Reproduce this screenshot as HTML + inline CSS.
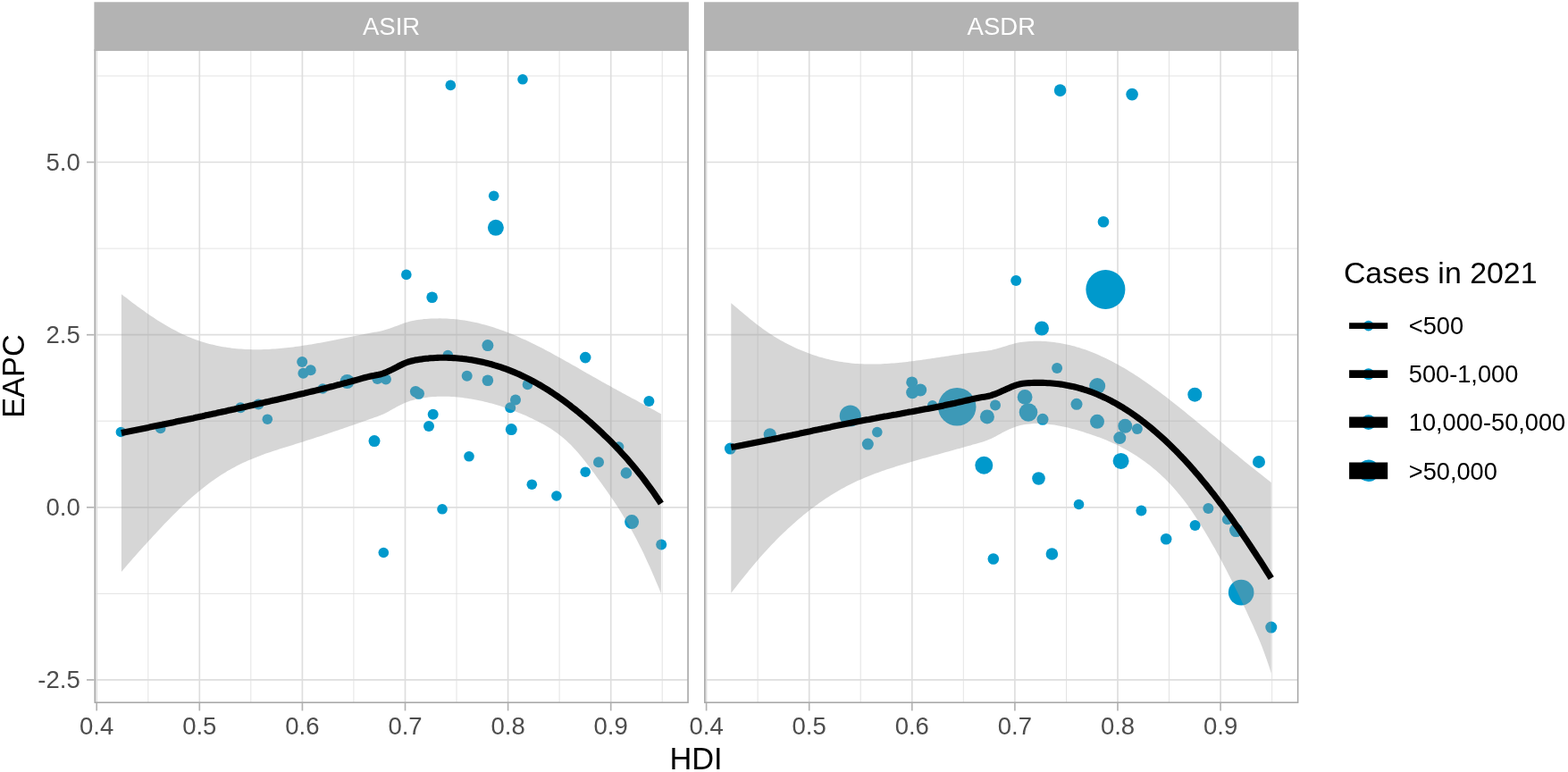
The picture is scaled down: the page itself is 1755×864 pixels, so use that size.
<!DOCTYPE html>
<html><head><meta charset="utf-8"><title>EAPC vs HDI</title>
<style>
html,body{margin:0;padding:0;background:#fff;}
svg{display:block;}
text{font-family:"Liberation Sans", Arial, Helvetica, sans-serif;}
.ax{font-size:27.5px;fill:#4d4d4d;}
.ti{font-size:34.4px;fill:#000;}
.st{font-size:27.5px;fill:#fff;}
.lg{font-size:27.2px;fill:#000;}
.lt{font-size:33.9px;fill:#000;}
</style></head><body>
<svg width="1755" height="864" viewBox="0 0 1755 864">
<rect width="1755" height="864" fill="#fff"/>
<g>
<clipPath id="c1"><rect x="106.25" y="56.0" width="663.8" height="730.25"/></clipPath>
<g clip-path="url(#c1)">
<line x1="106.25" x2="770.05" y1="664.4" y2="664.4" stroke="#dedede" stroke-width="0.85"/>
<line x1="106.25" x2="770.05" y1="471.2" y2="471.2" stroke="#dedede" stroke-width="0.85"/>
<line x1="106.25" x2="770.05" y1="278.1" y2="278.1" stroke="#dedede" stroke-width="0.85"/>
<line x1="106.25" x2="770.05" y1="85.0" y2="85.0" stroke="#dedede" stroke-width="0.85"/>
<line y1="56.0" y2="786.25" x1="165.8" x2="165.8" stroke="#dedede" stroke-width="0.85"/>
<line y1="56.0" y2="786.25" x1="280.8" x2="280.8" stroke="#dedede" stroke-width="0.85"/>
<line y1="56.0" y2="786.25" x1="395.9" x2="395.9" stroke="#dedede" stroke-width="0.85"/>
<line y1="56.0" y2="786.25" x1="511.0" x2="511.0" stroke="#dedede" stroke-width="0.85"/>
<line y1="56.0" y2="786.25" x1="626.1" x2="626.1" stroke="#dedede" stroke-width="0.85"/>
<line y1="56.0" y2="786.25" x1="741.2" x2="741.2" stroke="#dedede" stroke-width="0.85"/>
<line x1="106.25" x2="770.05" y1="760.9" y2="760.9" stroke="#dedede" stroke-width="1.67"/>
<line x1="106.25" x2="770.05" y1="567.8" y2="567.8" stroke="#dedede" stroke-width="1.67"/>
<line x1="106.25" x2="770.05" y1="374.7" y2="374.7" stroke="#dedede" stroke-width="1.67"/>
<line x1="106.25" x2="770.05" y1="181.5" y2="181.5" stroke="#dedede" stroke-width="1.67"/>
<line y1="56.0" y2="786.25" x1="108.2" x2="108.2" stroke="#dedede" stroke-width="1.67"/>
<line y1="56.0" y2="786.25" x1="223.3" x2="223.3" stroke="#dedede" stroke-width="1.67"/>
<line y1="56.0" y2="786.25" x1="338.4" x2="338.4" stroke="#dedede" stroke-width="1.67"/>
<line y1="56.0" y2="786.25" x1="453.5" x2="453.5" stroke="#dedede" stroke-width="1.67"/>
<line y1="56.0" y2="786.25" x1="568.6" x2="568.6" stroke="#dedede" stroke-width="1.67"/>
<line y1="56.0" y2="786.25" x1="683.7" x2="683.7" stroke="#dedede" stroke-width="1.67"/>
<circle cx="504.3" cy="95.4" r="5.8" fill="#0099cc"/>
<circle cx="585.0" cy="88.8" r="5.8" fill="#0099cc"/>
<circle cx="552.7" cy="219.2" r="5.8" fill="#0099cc"/>
<circle cx="554.9" cy="254.8" r="9" fill="#0099cc"/>
<circle cx="454.8" cy="307.4" r="5.8" fill="#0099cc"/>
<circle cx="483.6" cy="332.7" r="6.3" fill="#0099cc"/>
<circle cx="338.2" cy="405.1" r="6" fill="#0099cc"/>
<circle cx="347.7" cy="414.2" r="6" fill="#0099cc"/>
<circle cx="339.4" cy="417.7" r="6" fill="#0099cc"/>
<circle cx="361.2" cy="435" r="5.8" fill="#0099cc"/>
<circle cx="388.6" cy="427" r="8" fill="#0099cc"/>
<circle cx="422.4" cy="423.9" r="6" fill="#0099cc"/>
<circle cx="431.9" cy="424.6" r="6" fill="#0099cc"/>
<circle cx="465.2" cy="438.2" r="6.3" fill="#0099cc"/>
<circle cx="468.7" cy="440.5" r="6.3" fill="#0099cc"/>
<circle cx="501.3" cy="397.5" r="5.8" fill="#0099cc"/>
<circle cx="522.7" cy="420.8" r="6" fill="#0099cc"/>
<circle cx="545.9" cy="386.6" r="6.5" fill="#0099cc"/>
<circle cx="545.9" cy="425.7" r="6.3" fill="#0099cc"/>
<circle cx="590.5" cy="430.4" r="5.8" fill="#0099cc"/>
<circle cx="577" cy="447.5" r="6" fill="#0099cc"/>
<circle cx="571.2" cy="456.3" r="6" fill="#0099cc"/>
<circle cx="572.3" cy="480.6" r="6.5" fill="#0099cc"/>
<circle cx="655.2" cy="400.1" r="6.3" fill="#0099cc"/>
<circle cx="726.4" cy="449" r="6" fill="#0099cc"/>
<circle cx="484.7" cy="463.8" r="6" fill="#0099cc"/>
<circle cx="480" cy="477" r="6" fill="#0099cc"/>
<circle cx="419" cy="493.6" r="6.5" fill="#0099cc"/>
<circle cx="269.2" cy="456.3" r="6" fill="#0099cc"/>
<circle cx="289.3" cy="452.5" r="6" fill="#0099cc"/>
<circle cx="299.3" cy="469.2" r="5.8" fill="#0099cc"/>
<circle cx="179.7" cy="479.5" r="5.8" fill="#0099cc"/>
<circle cx="135.4" cy="483.5" r="5.8" fill="#0099cc"/>
<circle cx="525" cy="510.8" r="5.8" fill="#0099cc"/>
<circle cx="495" cy="569.8" r="5.8" fill="#0099cc"/>
<circle cx="429.3" cy="618.5" r="5.8" fill="#0099cc"/>
<circle cx="595.3" cy="542.2" r="5.8" fill="#0099cc"/>
<circle cx="622.9" cy="555" r="5.8" fill="#0099cc"/>
<circle cx="655.2" cy="528.2" r="5.8" fill="#0099cc"/>
<circle cx="670" cy="517.2" r="6" fill="#0099cc"/>
<circle cx="692.6" cy="500.1" r="5.8" fill="#0099cc"/>
<circle cx="700.9" cy="529.4" r="6.3" fill="#0099cc"/>
<circle cx="707.1" cy="584.1" r="8" fill="#0099cc"/>
<circle cx="740.2" cy="609.4" r="6" fill="#0099cc"/>
<path d="M135.9,329.2 L138.4,331.2 L141.0,333.1 L143.5,335.1 L146.0,337.0 L148.5,338.9 L151.1,340.8 L153.6,342.7 L156.1,344.5 L158.6,346.3 L161.2,348.1 L163.7,349.9 L166.2,351.7 L168.8,353.4 L171.3,355.1 L173.8,356.8 L176.3,358.4 L178.9,360.0 L181.4,361.5 L183.9,363.1 L186.4,364.6 L189.0,366.0 L191.5,367.4 L194.0,368.8 L196.6,370.1 L199.1,371.4 L201.6,372.7 L204.1,373.9 L206.7,375.1 L209.2,376.2 L211.7,377.3 L214.2,378.3 L216.8,379.3 L219.3,380.2 L221.8,381.1 L224.4,381.9 L226.9,382.7 L229.4,383.5 L231.9,384.2 L234.5,384.9 L237.0,385.5 L239.5,386.1 L242.0,386.7 L244.6,387.2 L247.1,387.7 L249.6,388.2 L252.2,388.6 L254.7,389.0 L257.2,389.3 L259.7,389.7 L262.3,389.9 L264.8,390.2 L267.3,390.4 L269.8,390.6 L272.4,390.8 L274.9,390.9 L277.4,391.1 L280.0,391.1 L282.5,391.2 L285.0,391.2 L287.5,391.2 L290.1,391.2 L292.6,391.2 L295.1,391.1 L297.6,391.0 L300.2,390.9 L302.7,390.8 L305.2,390.6 L307.7,390.5 L310.3,390.3 L312.8,390.1 L315.3,389.8 L317.9,389.6 L320.4,389.3 L322.9,389.0 L325.4,388.7 L328.0,388.4 L330.5,388.1 L333.0,387.8 L335.5,387.4 L338.1,387.0 L340.6,386.6 L343.1,386.2 L345.7,385.8 L348.2,385.4 L350.7,385.0 L353.2,384.6 L355.8,384.1 L358.3,383.7 L360.8,383.2 L363.3,382.7 L365.9,382.2 L368.4,381.8 L370.9,381.3 L373.5,380.8 L376.0,380.3 L378.5,379.8 L381.0,379.3 L383.6,378.8 L386.1,378.3 L388.6,377.8 L391.1,377.3 L393.7,376.7 L396.2,376.2 L398.7,375.7 L401.3,375.2 L403.8,374.7 L406.3,374.2 L408.8,373.7 L411.4,373.3 L413.9,372.8 L416.4,372.3 L418.9,371.8 L421.5,371.4 L424.0,370.9 L426.5,370.4 L429.1,369.8 L431.6,369.1 L434.1,368.3 L436.6,367.5 L439.2,366.6 L441.7,365.6 L444.2,364.7 L446.7,363.7 L449.3,362.7 L451.8,361.8 L454.3,360.9 L456.9,360.2 L459.4,359.5 L461.9,358.9 L464.4,358.4 L467.0,358.0 L469.5,357.7 L472.0,357.4 L474.5,357.1 L477.1,356.9 L479.6,356.7 L482.1,356.6 L484.7,356.5 L487.2,356.4 L489.7,356.4 L492.2,356.3 L494.8,356.4 L497.3,356.4 L499.8,356.5 L502.3,356.7 L504.9,356.9 L507.4,357.1 L509.9,357.3 L512.5,357.6 L515.0,357.9 L517.5,358.2 L520.0,358.6 L522.6,359.0 L525.1,359.5 L527.6,359.9 L530.1,360.5 L532.7,361.0 L535.2,361.6 L537.7,362.2 L540.3,362.9 L542.8,363.5 L545.3,364.3 L547.8,365.0 L550.4,365.8 L552.9,366.6 L555.4,367.4 L557.9,368.3 L560.5,369.2 L563.0,370.1 L565.5,371.0 L568.1,372.0 L570.6,373.0 L573.1,374.0 L575.6,375.1 L578.2,376.1 L580.7,377.2 L583.2,378.4 L585.7,379.5 L588.3,380.6 L590.8,381.8 L593.3,383.0 L595.8,384.2 L598.4,385.5 L600.9,386.7 L603.4,388.0 L606.0,389.3 L608.5,390.6 L611.0,391.9 L613.5,393.3 L616.1,394.6 L618.6,396.0 L621.1,397.4 L623.6,398.8 L626.2,400.2 L628.7,401.6 L631.2,403.0 L633.8,404.4 L636.3,405.8 L638.8,407.3 L641.3,408.7 L643.9,410.1 L646.4,411.6 L648.9,413.0 L651.4,414.5 L654.0,415.9 L656.5,417.4 L659.0,418.8 L661.6,420.2 L664.1,421.7 L666.6,423.1 L669.1,424.5 L671.7,426.0 L674.2,427.4 L676.7,428.8 L679.2,430.2 L681.8,431.6 L684.3,433.0 L686.8,434.4 L689.4,435.8 L691.9,437.2 L694.4,438.5 L696.9,439.9 L699.5,441.3 L702.0,442.7 L704.5,444.0 L707.0,445.4 L709.6,446.8 L712.1,448.1 L714.6,449.5 L717.2,450.9 L719.7,452.3 L722.2,453.6 L724.7,455.0 L727.3,456.4 L729.8,457.7 L732.3,459.1 L734.8,460.5 L737.4,461.9 L739.9,463.2 L739.9,664.3 L737.4,658.1 L734.8,652.0 L732.3,646.1 L729.8,640.2 L727.3,634.5 L724.7,628.9 L722.2,623.4 L719.7,618.1 L717.2,612.9 L714.6,607.9 L712.1,603.0 L709.6,598.2 L707.0,593.6 L704.5,589.1 L702.0,584.7 L699.5,580.4 L696.9,576.3 L694.4,572.2 L691.9,568.3 L689.4,564.4 L686.8,560.6 L684.3,556.9 L681.8,553.2 L679.2,549.6 L676.7,546.0 L674.2,542.5 L671.7,539.0 L669.1,535.5 L666.6,532.0 L664.1,528.6 L661.6,525.2 L659.0,521.8 L656.5,518.5 L654.0,515.3 L651.4,512.1 L648.9,509.0 L646.4,506.0 L643.9,503.2 L641.3,500.4 L638.8,497.8 L636.3,495.4 L633.8,493.0 L631.2,490.8 L628.7,488.7 L626.2,486.7 L623.6,484.8 L621.1,483.0 L618.6,481.3 L616.1,479.6 L613.5,478.1 L611.0,476.6 L608.5,475.1 L606.0,473.8 L603.4,472.4 L600.9,471.1 L598.4,469.9 L595.8,468.6 L593.3,467.4 L590.8,466.3 L588.3,465.1 L585.7,464.0 L583.2,463.0 L580.7,461.9 L578.2,460.9 L575.6,459.9 L573.1,458.9 L570.6,458.0 L568.1,457.1 L565.5,456.2 L563.0,455.4 L560.5,454.6 L557.9,453.8 L555.4,453.0 L552.9,452.3 L550.4,451.6 L547.8,451.0 L545.3,450.3 L542.8,449.7 L540.3,449.1 L537.7,448.6 L535.2,448.0 L532.7,447.5 L530.1,447.0 L527.6,446.6 L525.1,446.2 L522.6,445.8 L520.0,445.4 L517.5,445.1 L515.0,444.8 L512.5,444.5 L509.9,444.3 L507.4,444.1 L504.9,444.0 L502.3,443.8 L499.8,443.8 L497.3,443.7 L494.8,443.7 L492.2,443.7 L489.7,443.8 L487.2,443.9 L484.7,444.1 L482.1,444.3 L479.6,444.6 L477.1,444.9 L474.5,445.2 L472.0,445.6 L469.5,446.1 L467.0,446.6 L464.4,447.2 L461.9,447.9 L459.4,448.6 L456.9,449.5 L454.3,450.5 L451.8,451.5 L449.3,452.7 L446.7,454.0 L444.2,455.3 L441.7,456.7 L439.2,458.1 L436.6,459.6 L434.1,460.9 L431.6,462.2 L429.1,463.4 L426.5,464.5 L424.0,465.5 L421.5,466.4 L418.9,467.3 L416.4,468.2 L413.9,469.1 L411.4,470.0 L408.8,470.9 L406.3,471.8 L403.8,472.7 L401.3,473.6 L398.7,474.5 L396.2,475.3 L393.7,476.2 L391.1,477.1 L388.6,478.0 L386.1,478.8 L383.6,479.7 L381.0,480.6 L378.5,481.4 L376.0,482.3 L373.5,483.1 L370.9,484.0 L368.4,484.8 L365.9,485.7 L363.3,486.5 L360.8,487.4 L358.3,488.2 L355.8,489.0 L353.2,489.8 L350.7,490.7 L348.2,491.5 L345.7,492.3 L343.1,493.1 L340.6,493.9 L338.1,494.7 L335.5,495.5 L333.0,496.3 L330.5,497.1 L328.0,497.9 L325.4,498.7 L322.9,499.4 L320.4,500.2 L317.9,501.0 L315.3,501.8 L312.8,502.6 L310.3,503.4 L307.7,504.2 L305.2,505.1 L302.7,505.9 L300.2,506.8 L297.6,507.6 L295.1,508.5 L292.6,509.5 L290.1,510.4 L287.5,511.4 L285.0,512.4 L282.5,513.4 L280.0,514.4 L277.4,515.5 L274.9,516.7 L272.4,517.8 L269.8,519.0 L267.3,520.3 L264.8,521.5 L262.3,522.9 L259.7,524.3 L257.2,525.7 L254.7,527.1 L252.2,528.7 L249.6,530.2 L247.1,531.8 L244.6,533.5 L242.0,535.2 L239.5,537.0 L237.0,538.8 L234.5,540.6 L231.9,542.5 L229.4,544.5 L226.9,546.4 L224.4,548.5 L221.8,550.5 L219.3,552.7 L216.8,554.8 L214.2,557.0 L211.7,559.3 L209.2,561.6 L206.7,563.9 L204.1,566.3 L201.6,568.8 L199.1,571.2 L196.6,573.7 L194.0,576.2 L191.5,578.8 L189.0,581.4 L186.4,584.0 L183.9,586.6 L181.4,589.3 L178.9,592.0 L176.3,594.7 L173.8,597.4 L171.3,600.1 L168.8,602.9 L166.2,605.6 L163.7,608.4 L161.2,611.1 L158.6,613.9 L156.1,616.7 L153.6,619.6 L151.1,622.4 L148.5,625.3 L146.0,628.2 L143.5,631.1 L141.0,634.0 L138.4,637.0 L135.9,640.0Z" fill="#999999" fill-opacity="0.4"/>
<path d="M135.9,484.4 L138.4,483.9 L141.0,483.4 L143.5,482.9 L146.0,482.4 L148.5,481.9 L151.1,481.4 L153.6,480.9 L156.1,480.4 L158.6,479.9 L161.2,479.4 L163.7,478.9 L166.2,478.4 L168.8,477.8 L171.3,477.3 L173.8,476.8 L176.3,476.3 L178.9,475.8 L181.4,475.3 L183.9,474.7 L186.4,474.2 L189.0,473.7 L191.5,473.2 L194.0,472.7 L196.6,472.1 L199.1,471.6 L201.6,471.1 L204.1,470.5 L206.7,470.0 L209.2,469.5 L211.7,468.9 L214.2,468.4 L216.8,467.9 L219.3,467.3 L221.8,466.8 L224.4,466.2 L226.9,465.7 L229.4,465.1 L231.9,464.6 L234.5,464.0 L237.0,463.5 L239.5,462.9 L242.0,462.4 L244.6,461.8 L247.1,461.3 L249.6,460.7 L252.2,460.2 L254.7,459.6 L257.2,459.1 L259.7,458.5 L262.3,458.0 L264.8,457.4 L267.3,456.8 L269.8,456.3 L272.4,455.7 L274.9,455.2 L277.4,454.6 L280.0,454.0 L282.5,453.5 L285.0,452.9 L287.5,452.3 L290.1,451.8 L292.6,451.2 L295.1,450.6 L297.6,450.0 L300.2,449.5 L302.7,448.9 L305.2,448.3 L307.7,447.8 L310.3,447.2 L312.8,446.6 L315.3,446.0 L317.9,445.5 L320.4,444.9 L322.9,444.3 L325.4,443.7 L328.0,443.1 L330.5,442.5 L333.0,441.9 L335.5,441.3 L338.1,440.7 L340.6,440.2 L343.1,439.5 L345.7,438.9 L348.2,438.3 L350.7,437.7 L353.2,437.1 L355.8,436.5 L358.3,435.9 L360.8,435.2 L363.3,434.6 L365.9,434.0 L368.4,433.3 L370.9,432.7 L373.5,432.1 L376.0,431.4 L378.5,430.7 L381.0,430.1 L383.6,429.4 L386.1,428.7 L388.6,428.1 L391.1,427.4 L393.7,426.7 L396.2,426.0 L398.7,425.3 L401.3,424.6 L403.8,423.9 L406.3,423.2 L408.8,422.5 L411.4,421.9 L413.9,421.3 L416.4,420.7 L418.9,420.3 L421.5,419.8 L424.0,419.3 L426.5,418.7 L429.1,417.9 L431.6,416.9 L434.1,415.8 L436.6,414.6 L439.2,413.4 L441.7,412.1 L444.2,410.8 L446.7,409.5 L449.3,408.2 L451.8,407.0 L454.3,406.0 L456.9,405.0 L459.4,404.3 L461.9,403.7 L464.4,403.1 L467.0,402.7 L469.5,402.3 L472.0,401.9 L474.5,401.6 L477.1,401.3 L479.6,401.1 L482.1,400.8 L484.7,400.7 L487.2,400.5 L489.7,400.4 L492.2,400.3 L494.8,400.3 L497.3,400.3 L499.8,400.3 L502.3,400.4 L504.9,400.5 L507.4,400.6 L509.9,400.8 L512.5,401.0 L515.0,401.2 L517.5,401.4 L520.0,401.7 L522.6,402.1 L525.1,402.4 L527.6,402.8 L530.1,403.2 L532.7,403.7 L535.2,404.2 L537.7,404.7 L540.3,405.3 L542.8,405.9 L545.3,406.5 L547.8,407.1 L550.4,407.8 L552.9,408.6 L555.4,409.3 L557.9,410.1 L560.5,410.9 L563.0,411.8 L565.5,412.7 L568.1,413.6 L570.6,414.6 L573.1,415.6 L575.6,416.6 L578.2,417.7 L580.7,418.8 L583.2,420.0 L585.7,421.2 L588.3,422.4 L590.8,423.6 L593.3,424.9 L595.8,426.3 L598.4,427.6 L600.9,429.0 L603.4,430.5 L606.0,431.9 L608.5,433.5 L611.0,435.0 L613.5,436.6 L616.1,438.2 L618.6,439.9 L621.1,441.6 L623.6,443.3 L626.2,445.1 L628.7,446.9 L631.2,448.7 L633.8,450.6 L636.3,452.5 L638.8,454.4 L641.3,456.4 L643.9,458.4 L646.4,460.4 L648.9,462.5 L651.4,464.6 L654.0,466.7 L656.5,468.9 L659.0,471.1 L661.6,473.3 L664.1,475.6 L666.6,477.9 L669.1,480.2 L671.7,482.6 L674.2,484.9 L676.7,487.4 L679.2,489.8 L681.8,492.3 L684.3,494.8 L686.8,497.4 L689.4,500.0 L691.9,502.7 L694.4,505.4 L696.9,508.1 L699.5,510.9 L702.0,513.7 L704.5,516.6 L707.0,519.6 L709.6,522.6 L712.1,525.6 L714.6,528.8 L717.2,531.9 L719.7,535.2 L722.2,538.5 L724.7,541.8 L727.3,545.3 L729.8,548.8 L732.3,552.3 L734.8,556.0 L737.4,559.7 L739.9,563.5" fill="none" stroke="#000" stroke-width="7.1" stroke-linejoin="round"/>
</g>
<rect x="106.25" y="56.0" width="663.8" height="730.25" fill="none" stroke="#a8a8a8" stroke-width="1.6"/>
<rect x="105.40" y="2.3" width="665.50" height="54.50" fill="#b3b3b3"/>
<text class="st" x="438.1" y="38.7" text-anchor="middle">ASIR</text>
<line x1="108.2" x2="108.2" y1="787.05" y2="795.45" stroke="#b3b3b3" stroke-width="1.67"/>
<text class="ax" x="108.2" y="822.0" text-anchor="middle">0.4</text>
<line x1="223.3" x2="223.3" y1="787.05" y2="795.45" stroke="#b3b3b3" stroke-width="1.67"/>
<text class="ax" x="223.3" y="822.0" text-anchor="middle">0.5</text>
<line x1="338.4" x2="338.4" y1="787.05" y2="795.45" stroke="#b3b3b3" stroke-width="1.67"/>
<text class="ax" x="338.4" y="822.0" text-anchor="middle">0.6</text>
<line x1="453.5" x2="453.5" y1="787.05" y2="795.45" stroke="#b3b3b3" stroke-width="1.67"/>
<text class="ax" x="453.5" y="822.0" text-anchor="middle">0.7</text>
<line x1="568.6" x2="568.6" y1="787.05" y2="795.45" stroke="#b3b3b3" stroke-width="1.67"/>
<text class="ax" x="568.6" y="822.0" text-anchor="middle">0.8</text>
<line x1="683.7" x2="683.7" y1="787.05" y2="795.45" stroke="#b3b3b3" stroke-width="1.67"/>
<text class="ax" x="683.7" y="822.0" text-anchor="middle">0.9</text>
</g>
<g>
<clipPath id="c2"><rect x="788.85" y="56.0" width="663.8000000000001" height="730.25"/></clipPath>
<g clip-path="url(#c2)">
<line x1="788.85" x2="1452.65" y1="664.4" y2="664.4" stroke="#dedede" stroke-width="0.85"/>
<line x1="788.85" x2="1452.65" y1="471.2" y2="471.2" stroke="#dedede" stroke-width="0.85"/>
<line x1="788.85" x2="1452.65" y1="278.1" y2="278.1" stroke="#dedede" stroke-width="0.85"/>
<line x1="788.85" x2="1452.65" y1="85.0" y2="85.0" stroke="#dedede" stroke-width="0.85"/>
<line y1="56.0" y2="786.25" x1="848.1" x2="848.1" stroke="#dedede" stroke-width="0.85"/>
<line y1="56.0" y2="786.25" x1="963.2" x2="963.2" stroke="#dedede" stroke-width="0.85"/>
<line y1="56.0" y2="786.25" x1="1078.3" x2="1078.3" stroke="#dedede" stroke-width="0.85"/>
<line y1="56.0" y2="786.25" x1="1193.5" x2="1193.5" stroke="#dedede" stroke-width="0.85"/>
<line y1="56.0" y2="786.25" x1="1308.5" x2="1308.5" stroke="#dedede" stroke-width="0.85"/>
<line y1="56.0" y2="786.25" x1="1423.7" x2="1423.7" stroke="#dedede" stroke-width="0.85"/>
<line x1="788.85" x2="1452.65" y1="760.9" y2="760.9" stroke="#dedede" stroke-width="1.67"/>
<line x1="788.85" x2="1452.65" y1="567.8" y2="567.8" stroke="#dedede" stroke-width="1.67"/>
<line x1="788.85" x2="1452.65" y1="374.7" y2="374.7" stroke="#dedede" stroke-width="1.67"/>
<line x1="788.85" x2="1452.65" y1="181.5" y2="181.5" stroke="#dedede" stroke-width="1.67"/>
<line y1="56.0" y2="786.25" x1="790.6" x2="790.6" stroke="#dedede" stroke-width="1.67"/>
<line y1="56.0" y2="786.25" x1="905.7" x2="905.7" stroke="#dedede" stroke-width="1.67"/>
<line y1="56.0" y2="786.25" x1="1020.8" x2="1020.8" stroke="#dedede" stroke-width="1.67"/>
<line y1="56.0" y2="786.25" x1="1135.9" x2="1135.9" stroke="#dedede" stroke-width="1.67"/>
<line y1="56.0" y2="786.25" x1="1251.0" x2="1251.0" stroke="#dedede" stroke-width="1.67"/>
<line y1="56.0" y2="786.25" x1="1366.1" x2="1366.1" stroke="#dedede" stroke-width="1.67"/>
<circle cx="1186.6" cy="101.1" r="6.8" fill="#0099cc"/>
<circle cx="1267.1" cy="105.6" r="6.8" fill="#0099cc"/>
<circle cx="1235" cy="248.3" r="6.3" fill="#0099cc"/>
<circle cx="1137.2" cy="313.9" r="6" fill="#0099cc"/>
<circle cx="1237.4" cy="324" r="22" fill="#0099cc"/>
<circle cx="1166" cy="367.5" r="8" fill="#0099cc"/>
<circle cx="1183.1" cy="412.1" r="6" fill="#0099cc"/>
<circle cx="1020.7" cy="427.9" r="6.5" fill="#0099cc"/>
<circle cx="1030.2" cy="436.5" r="7" fill="#0099cc"/>
<circle cx="1021.2" cy="439.2" r="7" fill="#0099cc"/>
<circle cx="1043.7" cy="453.8" r="5.8" fill="#0099cc"/>
<circle cx="1071.2" cy="455.3" r="21.3" fill="#0099cc"/>
<circle cx="951.7" cy="465.5" r="12" fill="#0099cc"/>
<circle cx="1104.9" cy="466.4" r="8" fill="#0099cc"/>
<circle cx="1114" cy="453.5" r="6" fill="#0099cc"/>
<circle cx="1147.1" cy="444.4" r="8.4" fill="#0099cc"/>
<circle cx="1151" cy="461.5" r="10.3" fill="#0099cc"/>
<circle cx="1167" cy="469.3" r="6.5" fill="#0099cc"/>
<circle cx="1205" cy="452.3" r="6.5" fill="#0099cc"/>
<circle cx="981.8" cy="483.6" r="5.8" fill="#0099cc"/>
<circle cx="861.7" cy="486.3" r="7" fill="#0099cc"/>
<circle cx="817.4" cy="502.1" r="6.5" fill="#0099cc"/>
<circle cx="971.3" cy="497.1" r="6.5" fill="#0099cc"/>
<circle cx="1101.3" cy="520.7" r="10" fill="#0099cc"/>
<circle cx="1162.5" cy="535.5" r="7.3" fill="#0099cc"/>
<circle cx="1207.5" cy="564.5" r="5.8" fill="#0099cc"/>
<circle cx="1177.4" cy="620" r="6.8" fill="#0099cc"/>
<circle cx="1111.8" cy="625.5" r="6.3" fill="#0099cc"/>
<circle cx="1228.2" cy="432" r="9" fill="#0099cc"/>
<circle cx="1228" cy="471.8" r="8" fill="#0099cc"/>
<circle cx="1259.3" cy="476.8" r="8" fill="#0099cc"/>
<circle cx="1272.9" cy="480.1" r="6" fill="#0099cc"/>
<circle cx="1253.3" cy="490.1" r="7" fill="#0099cc"/>
<circle cx="1254.6" cy="515.9" r="9" fill="#0099cc"/>
<circle cx="1277.4" cy="571.6" r="6" fill="#0099cc"/>
<circle cx="1305.2" cy="603.2" r="6.3" fill="#0099cc"/>
<circle cx="1337.6" cy="587.9" r="6" fill="#0099cc"/>
<circle cx="1352.4" cy="569.1" r="6" fill="#0099cc"/>
<circle cx="1373.9" cy="581.3" r="6" fill="#0099cc"/>
<circle cx="1383.5" cy="593.6" r="7.5" fill="#0099cc"/>
<circle cx="1409" cy="516.9" r="7" fill="#0099cc"/>
<circle cx="1389.2" cy="663.1" r="14.3" fill="#0099cc"/>
<circle cx="1422.8" cy="702.1" r="6.5" fill="#0099cc"/>
<circle cx="1337.3" cy="441.7" r="8" fill="#0099cc"/>
<path d="M818.3,339.2 L820.8,341.3 L823.4,343.4 L825.9,345.6 L828.4,347.7 L830.9,349.8 L833.5,352.0 L836.0,354.1 L838.5,356.2 L841.1,358.2 L843.6,360.3 L846.1,362.2 L848.7,364.2 L851.2,366.1 L853.7,367.9 L856.2,369.7 L858.8,371.5 L861.3,373.2 L863.8,374.8 L866.4,376.4 L868.9,378.0 L871.4,379.5 L873.9,380.9 L876.5,382.3 L879.0,383.7 L881.5,385.0 L884.1,386.3 L886.6,387.5 L889.1,388.7 L891.6,389.9 L894.2,391.0 L896.7,392.1 L899.2,393.1 L901.8,394.1 L904.3,395.1 L906.8,396.0 L909.4,396.9 L911.9,397.8 L914.4,398.6 L916.9,399.4 L919.5,400.1 L922.0,400.8 L924.5,401.5 L927.1,402.1 L929.6,402.7 L932.1,403.3 L934.6,403.8 L937.2,404.3 L939.7,404.7 L942.2,405.1 L944.8,405.5 L947.3,405.8 L949.8,406.1 L952.4,406.4 L954.9,406.7 L957.4,406.9 L959.9,407.1 L962.5,407.2 L965.0,407.3 L967.5,407.4 L970.1,407.5 L972.6,407.5 L975.1,407.5 L977.6,407.5 L980.2,407.5 L982.7,407.4 L985.2,407.4 L987.8,407.3 L990.3,407.1 L992.8,407.0 L995.4,406.8 L997.9,406.6 L1000.4,406.4 L1002.9,406.2 L1005.5,406.0 L1008.0,405.7 L1010.5,405.5 L1013.1,405.2 L1015.6,404.9 L1018.1,404.6 L1020.6,404.3 L1023.2,404.0 L1025.7,403.6 L1028.2,403.3 L1030.8,402.9 L1033.3,402.6 L1035.8,402.2 L1038.3,401.8 L1040.9,401.5 L1043.4,401.1 L1045.9,400.7 L1048.5,400.3 L1051.0,399.9 L1053.5,399.5 L1056.1,399.2 L1058.6,398.8 L1061.1,398.4 L1063.6,398.0 L1066.2,397.6 L1068.7,397.2 L1071.2,396.9 L1073.8,396.5 L1076.3,396.1 L1078.8,395.8 L1081.3,395.4 L1083.9,395.1 L1086.4,394.8 L1088.9,394.5 L1091.5,394.2 L1094.0,393.9 L1096.5,393.6 L1099.1,393.3 L1101.6,393.0 L1104.1,392.7 L1106.6,392.3 L1109.2,391.9 L1111.7,391.3 L1114.2,390.7 L1116.8,390.0 L1119.3,389.3 L1121.8,388.5 L1124.3,387.7 L1126.9,386.9 L1129.4,386.1 L1131.9,385.4 L1134.5,384.7 L1137.0,384.1 L1139.5,383.5 L1142.0,383.1 L1144.6,382.7 L1147.1,382.4 L1149.6,382.2 L1152.2,382.0 L1154.7,381.9 L1157.2,381.8 L1159.8,381.8 L1162.3,381.8 L1164.8,381.8 L1167.3,381.9 L1169.9,382.1 L1172.4,382.3 L1174.9,382.5 L1177.5,382.7 L1180.0,383.0 L1182.5,383.4 L1185.0,383.8 L1187.6,384.2 L1190.1,384.7 L1192.6,385.2 L1195.2,385.7 L1197.7,386.3 L1200.2,387.0 L1202.8,387.6 L1205.3,388.4 L1207.8,389.1 L1210.3,389.9 L1212.9,390.8 L1215.4,391.6 L1217.9,392.6 L1220.5,393.5 L1223.0,394.5 L1225.5,395.5 L1228.0,396.6 L1230.6,397.7 L1233.1,398.9 L1235.6,400.0 L1238.2,401.2 L1240.7,402.5 L1243.2,403.8 L1245.7,405.1 L1248.3,406.4 L1250.8,407.8 L1253.3,409.2 L1255.9,410.7 L1258.4,412.1 L1260.9,413.6 L1263.5,415.2 L1266.0,416.7 L1268.5,418.3 L1271.0,419.9 L1273.6,421.6 L1276.1,423.3 L1278.6,425.0 L1281.2,426.7 L1283.7,428.5 L1286.2,430.2 L1288.7,432.0 L1291.3,433.9 L1293.8,435.7 L1296.3,437.6 L1298.9,439.5 L1301.4,441.4 L1303.9,443.3 L1306.5,445.2 L1309.0,447.2 L1311.5,449.2 L1314.0,451.2 L1316.6,453.2 L1319.1,455.2 L1321.6,457.2 L1324.2,459.3 L1326.7,461.3 L1329.2,463.4 L1331.7,465.4 L1334.3,467.5 L1336.8,469.6 L1339.3,471.7 L1341.9,473.8 L1344.4,475.9 L1346.9,478.0 L1349.5,480.1 L1352.0,482.2 L1354.5,484.4 L1357.0,486.5 L1359.6,488.6 L1362.1,490.7 L1364.6,492.8 L1367.2,494.9 L1369.7,497.0 L1372.2,499.2 L1374.7,501.3 L1377.3,503.4 L1379.8,505.5 L1382.3,507.6 L1384.9,509.6 L1387.4,511.7 L1389.9,513.8 L1392.4,515.9 L1395.0,517.9 L1397.5,520.0 L1400.0,522.0 L1402.6,524.1 L1405.1,526.1 L1407.6,528.1 L1410.2,530.1 L1412.7,532.1 L1415.2,534.1 L1417.7,536.1 L1420.3,538.1 L1422.8,540.0 L1422.8,753.8 L1420.3,745.5 L1417.7,737.9 L1415.2,730.9 L1412.7,724.3 L1410.2,718.1 L1407.6,712.1 L1405.1,706.3 L1402.6,700.6 L1400.0,695.0 L1397.5,689.4 L1395.0,683.9 L1392.4,678.5 L1389.9,673.1 L1387.4,667.8 L1384.9,662.5 L1382.3,657.4 L1379.8,652.3 L1377.3,647.2 L1374.7,642.2 L1372.2,637.3 L1369.7,632.5 L1367.2,627.7 L1364.6,623.0 L1362.1,618.4 L1359.6,613.8 L1357.0,609.4 L1354.5,605.0 L1352.0,600.7 L1349.5,596.4 L1346.9,592.2 L1344.4,588.2 L1341.9,584.2 L1339.3,580.3 L1336.8,576.5 L1334.3,572.7 L1331.7,569.1 L1329.2,565.6 L1326.7,562.1 L1324.2,558.8 L1321.6,555.6 L1319.1,552.5 L1316.6,549.4 L1314.0,546.5 L1311.5,543.7 L1309.0,541.0 L1306.5,538.4 L1303.9,535.8 L1301.4,533.4 L1298.9,531.0 L1296.3,528.7 L1293.8,526.5 L1291.3,524.4 L1288.7,522.3 L1286.2,520.3 L1283.7,518.4 L1281.2,516.5 L1278.6,514.7 L1276.1,513.0 L1273.6,511.3 L1271.0,509.6 L1268.5,508.0 L1266.0,506.5 L1263.5,505.0 L1260.9,503.6 L1258.4,502.2 L1255.9,500.9 L1253.3,499.6 L1250.8,498.3 L1248.3,497.1 L1245.7,495.9 L1243.2,494.8 L1240.7,493.7 L1238.2,492.6 L1235.6,491.6 L1233.1,490.6 L1230.6,489.6 L1228.0,488.7 L1225.5,487.8 L1223.0,486.9 L1220.5,486.0 L1217.9,485.2 L1215.4,484.4 L1212.9,483.6 L1210.3,482.8 L1207.8,482.1 L1205.3,481.3 L1202.8,480.6 L1200.2,479.9 L1197.7,479.3 L1195.2,478.6 L1192.6,478.0 L1190.1,477.4 L1187.6,476.9 L1185.0,476.4 L1182.5,476.0 L1180.0,475.5 L1177.5,475.2 L1174.9,474.9 L1172.4,474.6 L1169.9,474.4 L1167.3,474.2 L1164.8,474.1 L1162.3,474.0 L1159.8,474.0 L1157.2,474.1 L1154.7,474.2 L1152.2,474.4 L1149.6,474.7 L1147.1,475.1 L1144.6,475.5 L1142.0,476.1 L1139.5,476.7 L1137.0,477.5 L1134.5,478.4 L1131.9,479.4 L1129.4,480.5 L1126.9,481.7 L1124.3,483.0 L1121.8,484.3 L1119.3,485.7 L1116.8,487.1 L1114.2,488.5 L1111.7,489.8 L1109.2,491.0 L1106.6,492.1 L1104.1,493.0 L1101.6,493.9 L1099.1,494.7 L1096.5,495.5 L1094.0,496.2 L1091.5,496.9 L1088.9,497.6 L1086.4,498.4 L1083.9,499.1 L1081.3,499.8 L1078.8,500.5 L1076.3,501.2 L1073.8,501.9 L1071.2,502.6 L1068.7,503.3 L1066.2,504.0 L1063.6,504.7 L1061.1,505.4 L1058.6,506.1 L1056.1,506.8 L1053.5,507.5 L1051.0,508.2 L1048.5,508.9 L1045.9,509.6 L1043.4,510.3 L1040.9,511.0 L1038.3,511.7 L1035.8,512.4 L1033.3,513.1 L1030.8,513.8 L1028.2,514.5 L1025.7,515.2 L1023.2,516.0 L1020.6,516.7 L1018.1,517.4 L1015.6,518.2 L1013.1,518.9 L1010.5,519.7 L1008.0,520.5 L1005.5,521.3 L1002.9,522.0 L1000.4,522.9 L997.9,523.7 L995.4,524.5 L992.8,525.3 L990.3,526.2 L987.8,527.1 L985.2,528.0 L982.7,528.9 L980.2,529.8 L977.6,530.8 L975.1,531.7 L972.6,532.7 L970.1,533.8 L967.5,534.8 L965.0,535.9 L962.5,537.0 L959.9,538.1 L957.4,539.3 L954.9,540.5 L952.4,541.8 L949.8,543.0 L947.3,544.3 L944.8,545.7 L942.2,547.1 L939.7,548.5 L937.2,549.9 L934.6,551.4 L932.1,553.0 L929.6,554.6 L927.1,556.2 L924.5,557.8 L922.0,559.5 L919.5,561.3 L916.9,563.1 L914.4,564.9 L911.9,566.7 L909.4,568.6 L906.8,570.6 L904.3,572.5 L901.8,574.6 L899.2,576.6 L896.7,578.7 L894.2,580.8 L891.6,583.0 L889.1,585.2 L886.6,587.5 L884.1,589.7 L881.5,592.1 L879.0,594.4 L876.5,596.8 L873.9,599.3 L871.4,601.8 L868.9,604.3 L866.4,606.9 L863.8,609.5 L861.3,612.2 L858.8,614.9 L856.2,617.7 L853.7,620.5 L851.2,623.3 L848.7,626.2 L846.1,629.2 L843.6,632.2 L841.1,635.2 L838.5,638.3 L836.0,641.4 L833.5,644.5 L830.9,647.7 L828.4,650.8 L825.9,654.0 L823.4,657.3 L820.8,660.5 L818.3,663.7Z" fill="#999999" fill-opacity="0.4"/>
<path d="M818.3,500.6 L820.8,500.1 L823.4,499.7 L825.9,499.2 L828.4,498.7 L830.9,498.3 L833.5,497.8 L836.0,497.3 L838.5,496.8 L841.1,496.3 L843.6,495.8 L846.1,495.3 L848.7,494.8 L851.2,494.3 L853.7,493.8 L856.2,493.3 L858.8,492.8 L861.3,492.3 L863.8,491.8 L866.4,491.2 L868.9,490.7 L871.4,490.2 L873.9,489.6 L876.5,489.1 L879.0,488.6 L881.5,488.0 L884.1,487.5 L886.6,487.0 L889.1,486.4 L891.6,485.9 L894.2,485.4 L896.7,484.8 L899.2,484.3 L901.8,483.7 L904.3,483.2 L906.8,482.7 L909.4,482.1 L911.9,481.6 L914.4,481.1 L916.9,480.5 L919.5,480.0 L922.0,479.4 L924.5,478.9 L927.1,478.4 L929.6,477.9 L932.1,477.3 L934.6,476.8 L937.2,476.3 L939.7,475.8 L942.2,475.3 L944.8,474.7 L947.3,474.2 L949.8,473.7 L952.4,473.2 L954.9,472.7 L957.4,472.2 L959.9,471.7 L962.5,471.3 L965.0,470.8 L967.5,470.3 L970.1,469.8 L972.6,469.4 L975.1,468.9 L977.6,468.4 L980.2,468.0 L982.7,467.5 L985.2,467.0 L987.8,466.6 L990.3,466.1 L992.8,465.7 L995.4,465.2 L997.9,464.8 L1000.4,464.3 L1002.9,463.9 L1005.5,463.4 L1008.0,463.0 L1010.5,462.5 L1013.1,462.0 L1015.6,461.6 L1018.1,461.1 L1020.6,460.7 L1023.2,460.2 L1025.7,459.7 L1028.2,459.3 L1030.8,458.8 L1033.3,458.3 L1035.8,457.8 L1038.3,457.4 L1040.9,456.9 L1043.4,456.4 L1045.9,455.9 L1048.5,455.4 L1051.0,454.9 L1053.5,454.4 L1056.1,453.9 L1058.6,453.3 L1061.1,452.8 L1063.6,452.3 L1066.2,451.7 L1068.7,451.2 L1071.2,450.6 L1073.8,450.0 L1076.3,449.5 L1078.8,448.9 L1081.3,448.3 L1083.9,447.7 L1086.4,447.1 L1088.9,446.5 L1091.5,446.0 L1094.0,445.5 L1096.5,445.0 L1099.1,444.6 L1101.6,444.2 L1104.1,443.8 L1106.6,443.2 L1109.2,442.6 L1111.7,441.7 L1114.2,440.8 L1116.8,439.8 L1119.3,438.7 L1121.8,437.6 L1124.3,436.5 L1126.9,435.3 L1129.4,434.2 L1131.9,433.1 L1134.5,432.0 L1137.0,431.1 L1139.5,430.4 L1142.0,429.8 L1144.6,429.3 L1147.1,429.0 L1149.6,428.7 L1152.2,428.6 L1154.7,428.5 L1157.2,428.4 L1159.8,428.4 L1162.3,428.4 L1164.8,428.4 L1167.3,428.4 L1169.9,428.5 L1172.4,428.7 L1174.9,428.8 L1177.5,429.0 L1180.0,429.2 L1182.5,429.5 L1185.0,429.8 L1187.6,430.1 L1190.1,430.5 L1192.6,430.9 L1195.2,431.4 L1197.7,431.9 L1200.2,432.4 L1202.8,433.0 L1205.3,433.6 L1207.8,434.3 L1210.3,435.0 L1212.9,435.8 L1215.4,436.6 L1217.9,437.4 L1220.5,438.3 L1223.0,439.3 L1225.5,440.3 L1228.0,441.3 L1230.6,442.4 L1233.1,443.5 L1235.6,444.7 L1238.2,445.9 L1240.7,447.1 L1243.2,448.4 L1245.7,449.8 L1248.3,451.2 L1250.8,452.6 L1253.3,454.1 L1255.9,455.6 L1258.4,457.2 L1260.9,458.8 L1263.5,460.4 L1266.0,462.1 L1268.5,463.9 L1271.0,465.7 L1273.6,467.5 L1276.1,469.3 L1278.6,471.3 L1281.2,473.2 L1283.7,475.2 L1286.2,477.2 L1288.7,479.3 L1291.3,481.5 L1293.8,483.6 L1296.3,485.8 L1298.9,488.1 L1301.4,490.4 L1303.9,492.7 L1306.5,495.1 L1309.0,497.5 L1311.5,500.0 L1314.0,502.5 L1316.6,505.0 L1319.1,507.6 L1321.6,510.3 L1324.2,512.9 L1326.7,515.6 L1329.2,518.4 L1331.7,521.2 L1334.3,524.1 L1336.8,526.9 L1339.3,529.9 L1341.9,532.8 L1344.4,535.9 L1346.9,538.9 L1349.5,542.0 L1352.0,545.2 L1354.5,548.3 L1357.0,551.6 L1359.6,554.8 L1362.1,558.1 L1364.6,561.5 L1367.2,564.8 L1369.7,568.3 L1372.2,571.7 L1374.7,575.2 L1377.3,578.7 L1379.8,582.3 L1382.3,585.9 L1384.9,589.5 L1387.4,593.1 L1389.9,596.8 L1392.4,600.5 L1395.0,604.3 L1397.5,608.0 L1400.0,611.8 L1402.6,615.7 L1405.1,619.5 L1407.6,623.4 L1410.2,627.3 L1412.7,631.2 L1415.2,635.1 L1417.7,639.1 L1420.3,643.1 L1422.8,647.1" fill="none" stroke="#000" stroke-width="7.1" stroke-linejoin="round"/>
</g>
<rect x="788.85" y="56.0" width="663.8000000000001" height="730.25" fill="none" stroke="#a8a8a8" stroke-width="1.6"/>
<rect x="788.00" y="2.3" width="665.50" height="54.50" fill="#b3b3b3"/>
<text class="st" x="1120.8" y="38.7" text-anchor="middle">ASDR</text>
<line x1="790.6" x2="790.6" y1="787.05" y2="795.45" stroke="#b3b3b3" stroke-width="1.67"/>
<text class="ax" x="790.6" y="822.0" text-anchor="middle">0.4</text>
<line x1="905.7" x2="905.7" y1="787.05" y2="795.45" stroke="#b3b3b3" stroke-width="1.67"/>
<text class="ax" x="905.7" y="822.0" text-anchor="middle">0.5</text>
<line x1="1020.8" x2="1020.8" y1="787.05" y2="795.45" stroke="#b3b3b3" stroke-width="1.67"/>
<text class="ax" x="1020.8" y="822.0" text-anchor="middle">0.6</text>
<line x1="1135.9" x2="1135.9" y1="787.05" y2="795.45" stroke="#b3b3b3" stroke-width="1.67"/>
<text class="ax" x="1135.9" y="822.0" text-anchor="middle">0.7</text>
<line x1="1251.0" x2="1251.0" y1="787.05" y2="795.45" stroke="#b3b3b3" stroke-width="1.67"/>
<text class="ax" x="1251.0" y="822.0" text-anchor="middle">0.8</text>
<line x1="1366.1" x2="1366.1" y1="787.05" y2="795.45" stroke="#b3b3b3" stroke-width="1.67"/>
<text class="ax" x="1366.1" y="822.0" text-anchor="middle">0.9</text>
</g>
<line x1="97" x2="105.45" y1="181.5" y2="181.5" stroke="#b3b3b3" stroke-width="1.67"/>
<text class="ax" x="89.7" y="190.8" text-anchor="end">5.0</text>
<line x1="97" x2="105.45" y1="374.7" y2="374.7" stroke="#b3b3b3" stroke-width="1.67"/>
<text class="ax" x="89.7" y="384.0" text-anchor="end">2.5</text>
<line x1="97" x2="105.45" y1="567.8" y2="567.8" stroke="#b3b3b3" stroke-width="1.67"/>
<text class="ax" x="89.7" y="577.1" text-anchor="end">0.0</text>
<line x1="97" x2="105.45" y1="760.9" y2="760.9" stroke="#b3b3b3" stroke-width="1.67"/>
<text class="ax" x="89.7" y="770.2" text-anchor="end">-2.5</text>
<text class="ti" transform="translate(26.7,421) rotate(-90)" text-anchor="middle">EAPC</text>
<text class="ti" x="779" y="860.5" text-anchor="middle">HDI</text>
<text class="lt" x="1503.9" y="316.5">Cases in 2021</text>
<circle cx="1531.7" cy="364.6" r="5.8" fill="#0099cc"/>
<line x1="1510.1" x2="1553.2" y1="364.6" y2="364.6" stroke="#000" stroke-width="6.9"/>
<text class="lg" x="1576.8" y="374.3">&lt;500</text>
<circle cx="1531.7" cy="418.6" r="6.4" fill="#0099cc"/>
<line x1="1510.1" x2="1553.2" y1="418.6" y2="418.6" stroke="#000" stroke-width="8.6"/>
<text class="lg" x="1576.8" y="428.3">500-1,000</text>
<circle cx="1531.7" cy="472.6" r="8.3" fill="#0099cc"/>
<line x1="1510.1" x2="1553.2" y1="472.6" y2="472.6" stroke="#000" stroke-width="12.4"/>
<text class="lg" x="1576.8" y="482.3">10,000-50,000</text>
<circle cx="1531.7" cy="526.8" r="12.2" fill="#0099cc"/>
<line x1="1510.1" x2="1553.2" y1="526.8" y2="526.8" stroke="#000" stroke-width="18.8"/>
<text class="lg" x="1576.8" y="536.5">&gt;50,000</text>
</svg></body></html>
